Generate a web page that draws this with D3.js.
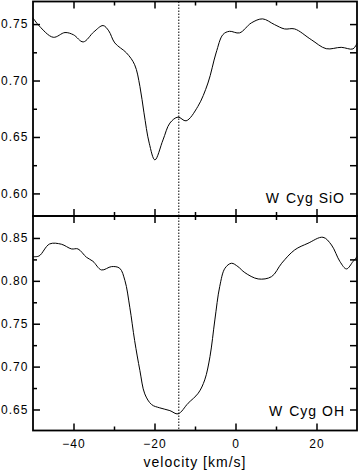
<!DOCTYPE html>
<html>
<head>
<meta charset="utf-8">
<script src="https://cdn.jsdelivr.net/npm/d3@7"></script>
<style>
  body { margin: 0; background: #fff; }
  text { font-family: "Liberation Sans", Arial, sans-serif; font-size: 12px; letter-spacing: 1px; fill: #000; }
</style>
</head>
<body>
<script>
var w = 358;
var h = 474;
var left = 33, right = 357;
var vLine = -14;

// SiO profile
var sioVel = [-50, -48.5, -45.0, -42.1, -40, -37.6, -35, -32.7, -31.3, -29.8, -26.9, -24.9, -23.6, -22.6, -21.3, -19.9, -17.9, -16.2, -14.2, -12.2, -9.3, -6.8, -4.8, -3.1, -1.5, 1.0, 3.9, 6.7, 9.6, 12.1, 14.6, 18.7, 22.4, 26.1, 29.0, 30];
var sioFlux = [0.7555, 0.7485, 0.7383, 0.7425, 0.7405, 0.7342, 0.7430, 0.7487, 0.7440, 0.7333, 0.7244, 0.7140, 0.6948, 0.6714, 0.6445, 0.6297, 0.6474, 0.6623, 0.6676, 0.6643, 0.6770, 0.6978, 0.7244, 0.7407, 0.7436, 0.7422, 0.7510, 0.7546, 0.7496, 0.7457, 0.7457, 0.7362, 0.7282, 0.7294, 0.7280, 0.7330];

// OH profile
var ohVel = [-50, -48.5, -45.9, -43, -40.5, -38.9, -36.8, -35.2, -33.1, -30.6, -28.6, -27.3, -26.1, -24.9, -23.6, -22.4, -20.7, -18.7, -16.2, -14.2, -11.7, -9.2, -7.6, -6.3, -5.1, -3.9, -2.6, -1.0, 0.6, 2.3, 5.6, 8.9, 11.4, 14.6, 17.9, 21.6, 23.7, 25.8, 27.4, 29.0, 30];
var ohFlux = [0.8282, 0.8290, 0.8430, 0.8427, 0.8372, 0.8372, 0.8275, 0.8228, 0.8127, 0.8166, 0.8147, 0.8003, 0.7692, 0.7303, 0.6953, 0.6682, 0.6557, 0.6519, 0.6487, 0.6449, 0.6573, 0.6690, 0.6845, 0.7117, 0.7544, 0.7933, 0.8147, 0.8205, 0.8166, 0.8096, 0.8022, 0.8049, 0.8205, 0.8360, 0.8438, 0.8508, 0.8418, 0.8224, 0.8139, 0.8224, 0.8282];

var xTicks = [-40, -20, 0, 20];
var xMinor = [-30, -10, 10];
var sioTicks = [0.60, 0.65, 0.70, 0.75];
var sioMinor = [0.625, 0.675, 0.725];
var ohTicks = [0.65, 0.70, 0.75, 0.80, 0.85];
var ohMinor = [0.675, 0.725, 0.775, 0.825];

var panels = [
  {vel: sioVel, flux: sioFlux, domain: [0.58, 0.77], top: 1.5, bottom: 216, ticks: sioTicks, minor: sioMinor, star: "W", label: "Cyg SiO", labelY: 203},
  {vel: ohVel, flux: ohFlux, domain: [0.6255, 0.8756], top: 216, bottom: 430.5, ticks: ohTicks, minor: ohMinor, star: "W", label: "Cyg OH", labelY: 415.5}
];

var xScale = d3.scaleLinear().domain([-50, 30]).range([left, right]);

var svg = d3.select("body").append("svg")
  .attr("width", w)
  .attr("height", h);

panels.forEach(function(p, k) {
  var yScale = d3.scaleLinear().domain(p.domain).range([p.bottom, p.top]);
  var g = svg.append("g");

  // bottom and top x ticks, inward
  g.append("g").attr("transform", "translate(0," + p.bottom + ")")
    .call(d3.axisTop(xScale).tickValues(xTicks).tickSize(7).tickFormat(""));
  g.append("g").attr("transform", "translate(0," + p.bottom + ")")
    .call(d3.axisTop(xScale).tickValues(xMinor).tickSize(4).tickFormat(""));
  g.append("g").attr("transform", "translate(0," + p.top + ")")
    .call(d3.axisBottom(xScale).tickValues(xTicks).tickSize(7).tickFormat(""));
  g.append("g").attr("transform", "translate(0," + p.top + ")")
    .call(d3.axisBottom(xScale).tickValues(xMinor).tickSize(4).tickFormat(""));

  // left axis with labels (ticks inward)
  var la = g.append("g").attr("transform", "translate(" + left + ",0)")
    .call(d3.axisRight(yScale).tickValues(p.ticks).tickSize(7).tickFormat(d3.format(".2f")));
  la.selectAll("text").attr("x", 1 - left).attr("text-anchor", "start");
  g.append("g").attr("transform", "translate(" + left + ",0)")
    .call(d3.axisRight(yScale).tickValues(p.minor).tickSize(4).tickFormat(""));

  // right axis ticks
  g.append("g").attr("transform", "translate(" + right + ",0)")
    .call(d3.axisLeft(yScale).tickValues(p.ticks).tickSize(7).tickFormat(""));
  g.append("g").attr("transform", "translate(" + right + ",0)")
    .call(d3.axisLeft(yScale).tickValues(p.minor).tickSize(7).tickFormat(""));

  g.selectAll(".domain").remove();
  g.selectAll(".tick line").attr("stroke", "#000").attr("stroke-width", 1.5);
  g.selectAll(".tick text").style("font-family", "'Liberation Sans', Arial, sans-serif").style("font-size", "12px");

  // frame
  g.append("rect")
    .attr("x", left).attr("y", p.top)
    .attr("width", right - left).attr("height", p.bottom - p.top)
    .attr("fill", "none").attr("stroke", "#000").attr("stroke-width", 1.8);

  // profile
  var line = d3.line()
    .x(function(d, i) { return xScale(p.vel[i]); })
    .y(function(d) { return yScale(d); })
    .curve(d3.curveCatmullRom.alpha(0.5));
  g.append("path")
    .datum(p.flux)
    .attr("d", line)
    .attr("fill", "none")
    .attr("stroke", "#000")
    .attr("stroke-width", 1);

  var lbl = g.append("text")
    .attr("x", 345)
    .attr("y", p.labelY)
    .attr("text-anchor", "end")
    .style("font-size", "14px");
  lbl.append("tspan").text(p.star);
  lbl.append("tspan").attr("dx", 6).text(p.label);
});

// dotted reference velocity
svg.append("line")
  .attr("x1", xScale(vLine)).attr("x2", xScale(vLine))
  .attr("y1", 1.5).attr("y2", 430.5)
  .attr("stroke", "#000")
  .attr("stroke-width", 1)
  .attr("stroke-dasharray", "1.5,1.5");

// bottom tick labels
svg.append("g").attr("transform", "translate(0,430.5)")
  .call(d3.axisBottom(xScale).tickValues(xTicks).tickSize(0).tickPadding(9))
  .call(function(a) { a.select(".domain").remove(); })
  .selectAll("text")
  .style("font-family", "'Liberation Sans', Arial, sans-serif")
  .style("font-size", "12px");

svg.append("text")
  .attr("x", (left + right) / 2)
  .attr("y", 467)
  .attr("text-anchor", "middle")
  .style("font-size", "14px")
  .text("velocity [km/s]");
</script>
</body>
</html>
